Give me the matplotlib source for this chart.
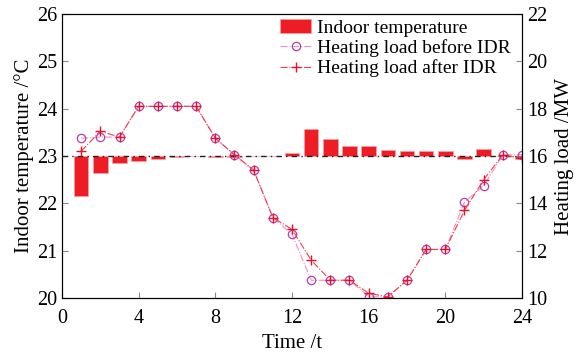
import numpy as np
import matplotlib
matplotlib.use('Agg')
import matplotlib.pyplot as plt

plt.rcParams['font.family'] = ['Liberation Serif', 'DejaVu Serif']

hours = list(range(1, 25))
# indoor temperature per hour (degC), bars drawn from the 23 degC baseline
indoor_temp = [22.15, 22.65, 22.85, 22.90, 22.94, 22.97, 22.99, 22.97,
               22.98, 23.00, 23.00, 23.07, 23.56, 23.35, 23.21, 23.21,
               23.13, 23.11, 23.11, 23.11, 22.93, 23.14, 23.01, 22.93]
load_before = [16.75, 16.8, 16.8, 18.1, 18.1, 18.1, 18.1, 16.75,
               16.05, 15.4, 13.4, 12.7, 10.75, 10.75, 10.75, 10.05,
               10.05, 10.75, 12.05, 12.05, 14.05, 14.75, 16.05, 16.05]
load_after = [16.2, 17.05, 16.8, 18.1, 18.1, 18.1, 18.1, 16.75,
              16.05, 15.4, 13.4, 12.9, 11.6, 10.75, 10.75, 10.2,
              10.05, 10.75, 12.05, 12.05, 13.7, 15.0, 16.05, 15.9]
BASE = 23.0

fig = plt.figure(figsize=(5.77, 3.6), dpi=100)
ax1 = fig.add_axes([62 / 577, 62 / 360, 460 / 577, 284 / 360])
ax2 = ax1.twinx()

heights = [t - BASE for t in indoor_temp]
bars = ax1.bar(hours, heights, width=0.75, bottom=BASE, color='#ee1c25',
               edgecolor='#f8a0a4', linewidth=0.5, label='Indoor temperature',
               zorder=2)
ax1.axhline(BASE, color='#222222', lw=1.0, ls=(0, (4, 3, 1, 3)), zorder=3)

l1, = ax2.plot(hours, load_before, color='#f090c0', ls='-.', lw=0.8,
               marker='o', ms=6, mfc='none', mec='#b040b0', mew=0.9,
               label='Heating load before IDR')
l2, = ax2.plot(hours, load_after, color='#f04050', ls='-.', lw=0.8,
               marker='+', ms=7, mec='#e8102a', mew=1.0,
               label='Heating load after IDR')

ax1.set_xlim(0, 24)
ax1.set_ylim(20, 26)
ax2.set_ylim(10, 22)
ax1.set_xticks(range(0, 25, 4))
ax1.set_yticks(range(20, 27))
ax2.set_yticks(range(10, 23, 2))

ax1.set_xlabel('Time /t', fontsize=15, labelpad=4)
ax1.set_ylabel('Indoor temperature /°C', fontsize=15, labelpad=2)
ax2.set_ylabel('Heating load /MW', fontsize=15, labelpad=6)

for ax in (ax1, ax2):
    ax.tick_params(direction='in', labelsize=14.5, length=4, color='#888888')
ax1.tick_params(axis='x', pad=8)

ax1.legend([bars, l1, l2],
           ['Indoor temperature', 'Heating load before IDR', 'Heating load after IDR'],
           loc='upper left', bbox_to_anchor=(0.449, 1.022), frameon=False,
           fontsize=14, handlelength=1.6, handletextpad=0.3, labelspacing=0.12,
           borderaxespad=0.2)

plt.savefig('out.png', dpi=100)
